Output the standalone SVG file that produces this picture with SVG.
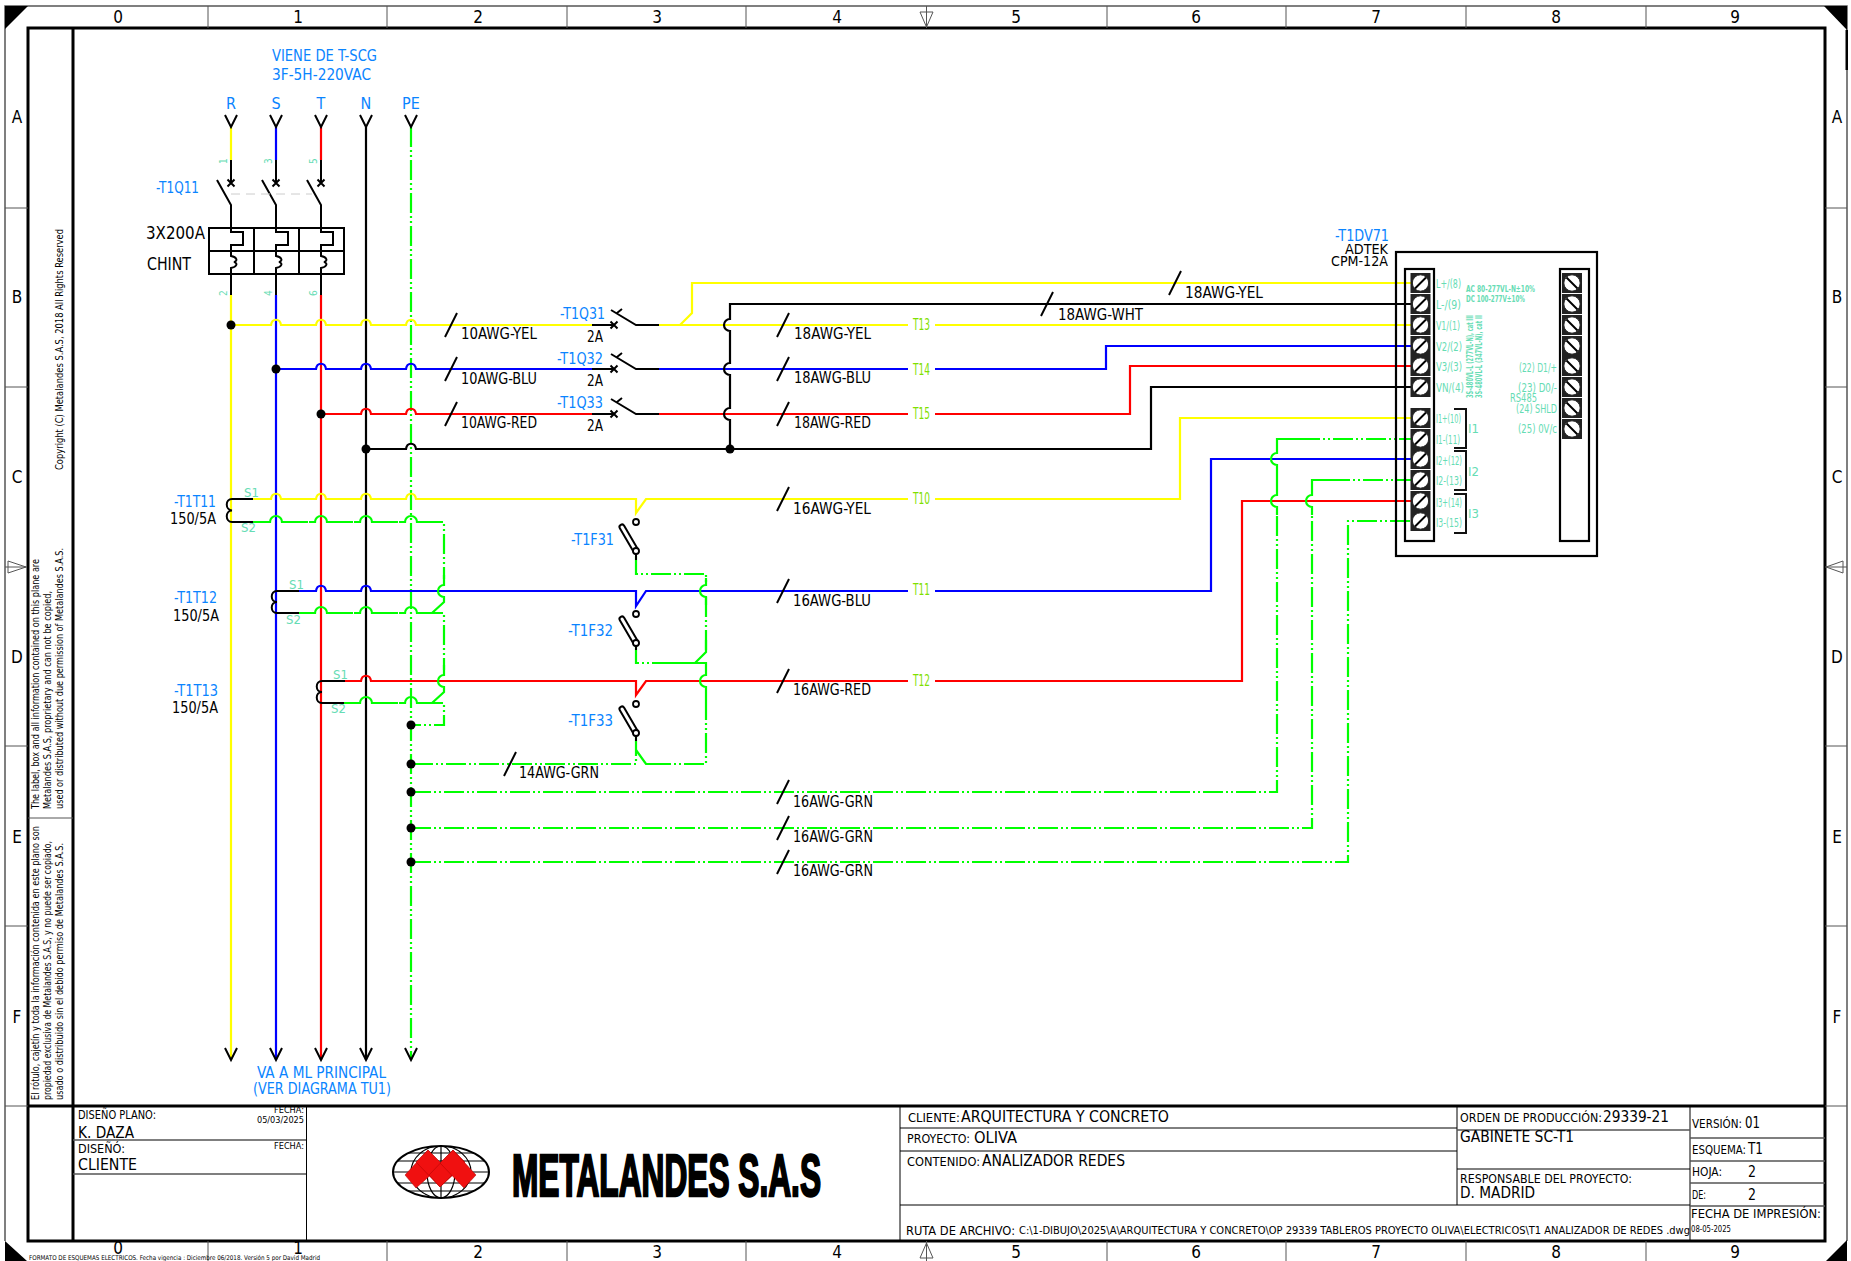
<svg xmlns="http://www.w3.org/2000/svg" width="1851" height="1261" viewBox="0 0 1851 1261">
<style>
text{font-family:"Liberation Sans Narrow","DejaVu Sans Condensed","Liberation Sans",sans-serif;fill:#000;font-size:16px}
.b{fill:#0a84ff}.t{fill:#66dcb4;font-size:13px}.g{fill:#7fe000;font-size:15px}
.s{font-size:15.5px}.m{text-anchor:middle}.e{text-anchor:end}
.d{font-family:"DejaVu Sans Condensed","DejaVu Sans",sans-serif}
.n{font-family:"Liberation Sans Narrow","DejaVu Sans Condensed",sans-serif;font-size:17px;text-anchor:middle}
.w{fill:none;stroke-width:2.2;stroke-linejoin:miter}
.y{stroke:#ff0}.u{stroke:#00f}.r{stroke:#f00}.k{stroke:#000}
.p{stroke:#0f0;stroke-dasharray:20 3 2 3 2 3}
.v{stroke:#0f0}
.h{fill:none;stroke:#000;stroke-width:2}
.f{fill:none;stroke:#000;stroke-width:3}
.l{fill:none;stroke:#555;stroke-width:1}
.q{fill:none;stroke:#555;stroke-width:1.5}
.o{fill:#fff;stroke:#000;stroke-width:1.8}
.z{fill:none;stroke:#000;stroke-width:2.2}
.lf{font-family:"DejaVu Sans Condensed","DejaVu Sans",sans-serif;font-size:10px}
.br{fill:none;stroke:#111;stroke-width:2}
.rd{fill:#f01010;stroke:#a00;stroke-width:.5}
</style>
<defs>
<g id="tl"><rect x="-10" y="-10" width="20" height="20" fill="#222"/><circle r="8.2" fill="#fff" stroke="#222"/><path d="M-5.5 5.5L5.5-5.5" stroke="#000" stroke-width="2"/></g>
<g id="tr"><rect x="-10" y="-10" width="20" height="20" fill="#222"/><circle r="8.2" fill="#fff" stroke="#222"/><path d="M-5.5-5.5L5.5 5.5" stroke="#000" stroke-width="2"/></g>
<path id="sl" d="M-6 12L6-12" stroke="#000" stroke-width="2" fill="none"/>
<path id="yi" d="M-6-12L0 0L6-12" fill="none" stroke="#000" stroke-width="2"/>
<circle id="dot" r="4.5" fill="#000"/>
<path id="xm" d="M-3.5-3.5L3.5 3.5M-3.5 3.5L3.5-3.5" stroke="#000" stroke-width="2"/>
<clipPath id="gl"><ellipse cx="441" cy="1172" rx="48" ry="26"/></clipPath>
</defs>

<g id="frame">
<path class="q" d="M5 1241V6H1847V1241"/>
<path class="f" d="M28 28H1825V1241H28ZM73 28V1241M28 1106H1825"/>
<path d="M5 6H28L5 29ZM1824 6H1847V30ZM5 1241L27 1261H5ZM1847 1240V1261H1826Z"/>
<path d="M1845.500 30H1848V70H1845.500Z"/>
<path class="l" d="M208 6V28M387 6V28M567 6V28M746 6V28M1107 6V28M1286 6V28M1466 6V28M1646 6V28M208 1241V1261M387 1241V1261M567 1241V1261M746 1241V1261M1107 1241V1261M1286 1241V1261M1466 1241V1261M1646 1241V1261M5 208H28M5 387H28M5 746H28M5 926H28M5 1106H28M1825 208H1847M1825 387H1847M1825 746H1847M1825 926H1847M1825 1106H1847M28 818H73"/>
<path class="l" d="M926.500 6V28M920 12H933L926.500 27ZM926.500 1241V1261M920 1258H933L926.500 1243ZM5 567H27M8 561V573L26 567ZM1825 567H1847M1843 561V573L1826 567Z"/>
<g class="nums">
<text class="n" x="118" y="23">0</text><text class="n" x="298" y="23">1</text><text class="n" x="478" y="23">2</text><text class="n" x="657" y="23">3</text><text class="n" x="837" y="23">4</text><text class="n" x="1016" y="23">5</text><text class="n" x="1196" y="23">6</text><text class="n" x="1376" y="23">7</text><text class="n" x="1556" y="23">8</text><text class="n" x="1735" y="23">9</text>
<text class="n" x="118" y="1254">0</text><text class="n" x="298" y="1254">1</text><text class="n" x="478" y="1258">2</text><text class="n" x="657" y="1258">3</text><text class="n" x="837" y="1258">4</text><text class="n" x="1016" y="1258">5</text><text class="n" x="1196" y="1258">6</text><text class="n" x="1376" y="1258">7</text><text class="n" x="1556" y="1258">8</text><text class="n" x="1735" y="1258">9</text>
<text class="n" x="17" y="123">A</text><text class="n" x="17" y="303">B</text><text class="n" x="17" y="483">C</text><text class="n" x="17" y="663">D</text><text class="n" x="17" y="843">E</text><text class="n" x="17" y="1023">F</text>
<text class="n" x="1837" y="123">A</text><text class="n" x="1837" y="303">B</text><text class="n" x="1837" y="483">C</text><text class="n" x="1837" y="663">D</text><text class="n" x="1837" y="843">E</text><text class="n" x="1837" y="1023">F</text>
</g>
<text class="d" x="29" y="1260" textLength="291" lengthAdjust="spacingAndGlyphs" style="font-size:6.5px">FORMATO DE ESQUEMAS ELECTRICOS.  Fecha  vigencia : Diciembre 06/2018.  Versión 5 por David Madrid</text>
</g>

<g id="legal">
<text class="lf" transform="translate(63 470) rotate(-90)" textLength="241" lengthAdjust="spacingAndGlyphs">Copyright (C)  Metalandes S.A.S, 2018 All  Rights Reserved</text>
<text class="lf" transform="translate(39 809) rotate(-90)" textLength="250" lengthAdjust="spacingAndGlyphs">The label, box and all information contained on this plane are</text>
<text class="lf" transform="translate(51 809) rotate(-90)" textLength="218" lengthAdjust="spacingAndGlyphs">Metalandes S.A.S, proprietary and can not be copied,</text>
<text class="lf" transform="translate(63 809) rotate(-90)" textLength="261" lengthAdjust="spacingAndGlyphs">used or distributed without due permission of Metalandes S.A.S.</text>
<text class="lf" transform="translate(39 1100) rotate(-90)" textLength="274" lengthAdjust="spacingAndGlyphs">El rótulo, cajetín y toda la información contenida en este plano son</text>
<text class="lf" transform="translate(51 1100) rotate(-90)" textLength="259" lengthAdjust="spacingAndGlyphs">propiedad exclusiva de Metalandes S.A.S, y no puede ser copiado,</text>
<text class="lf" transform="translate(63 1100) rotate(-90)" textLength="257" lengthAdjust="spacingAndGlyphs">usado o distribuido sin el debido permiso de Metalandes S.A.S.</text>
</g>

<g id="connectors">
<path class="w y" d="M231 127V160M231 295V1060"/>
<path class="w u" d="M276 127V160M276 295V1060"/>
<path class="w r" d="M321 127V160M321 295V1060"/>
<path class="w k" d="M366 127V1060"/>
<path class="w p" d="M411 127V1060"/>
<path class="w y" d="M231 325H271c1-7 9-7 10 0H316c1-7 9-7 10 0H361c1-7 9-7 10 0H406c1-7 9-7 10 0H592M659 325H908M935 325H1411M680 325L692 313V283H1411"/>
<path class="w u" d="M276 369H316c1-7 9-7 10 0H361c1-7 9-7 10 0H406c1-7 9-7 10 0H592M659 369H908M935 369H1106V346H1411"/>
<path class="w r" d="M321 414H361c1-7 9-7 10 0H406c1-7 9-7 10 0H592M659 414H908M935 414H1130V366H1411"/>
<path class="w k" d="M366 449H406c1-7 9-7 10 0H1151V387H1411M730 449V420a6 6 0 0 1 0-12V375a6 6 0 0 1 0-12V331a6 6 0 0 1 0-12V304H1411"/>
<path class="w y" d="M253 499H271c1-7 9-7 10 0H316c1-7 9-7 10 0H361c1-7 9-7 10 0H406c1-7 9-7 10 0H636V513L646 499H908M935 499H1180V418H1411"/>
<path class="w u" d="M299 591H316c1-7 9-7 10 0H361c1-7 9-7 10 0H636V606L646 591H908M935 591H1211V459H1411"/>
<path class="w r" d="M345 681H361c1-7 9-7 10 0H636V695L646 681H908M935 681H1242V501H1411"/>
<path class="w p" d="M253 522H264M288 522H309M333 522H354M378 522H399M423 522H444V579"/>
<path class="w v" d="M264 522H270a6 6 0 0 1 12 0H288M309 522H315a6 6 0 0 1 12 0H333M354 522H360a6 6 0 0 1 12 0H378M399 522H405a6 6 0 0 1 12 0H423M444 575V585a6 6 0 0 0 0 12V602L432 613"/>
<path class="w p" d="M299 613H309M333 613H354M378 613H399M423 613H444V670"/>
<path class="w v" d="M309 613H315a6 6 0 0 1 12 0H333M354 613H360a6 6 0 0 1 12 0H378M399 613H405a6 6 0 0 1 12 0H423M444 665V675a6 6 0 0 0 0 12V692L432 703"/>
<path class="w p" d="M344 703H354M378 703H399M423 703H444V725H411"/>
<path class="w v" d="M354 703H360a6 6 0 0 1 12 0H378M399 703H405a6 6 0 0 1 12 0H423"/>
<path class="w p" d="M636 556V574H706V585M706 597V652"/>
<path class="w v" d="M706 578V585a6 6 0 0 0 0 12V605M706 640V652L695 663H660"/>
<path class="w p" d="M636 646V663H695"/>
<path class="w v" d="M695 663H706V675a6 6 0 0 0 0 12V700"/>
<path class="w p" d="M706 700V764H646"/>
<path class="w v" d="M660 764H646L636 750"/>
<path class="w p" d="M636 736V764H411"/>
<path class="w p" d="M411 792H1277V515"/>
<path class="w v" d="M1277 515V507a6 6 0 0 1 0-12V465a6 6 0 0 1 0-12V439H1300"/>
<path class="w p" d="M1300 439H1411"/>
<path class="w p" d="M411 828H1312V515"/>
<path class="w v" d="M1312 515V507a6 6 0 0 1 0-12V480H1330"/>
<path class="w p" d="M1330 480H1411"/>
<path class="w p" d="M411 862H1348V521H1411"/>
<use href="#dot" x="231" y="325"/><use href="#dot" x="276" y="369"/><use href="#dot" x="321" y="414"/><use href="#dot" x="366" y="449"/><use href="#dot" x="730" y="449"/>
<use href="#dot" x="411" y="725"/><use href="#dot" x="411" y="764"/><use href="#dot" x="411" y="792"/><use href="#dot" x="411" y="828"/><use href="#dot" x="411" y="862"/>
<use href="#sl" x="451" y="325"/><use href="#sl" x="451" y="369"/><use href="#sl" x="451" y="414"/>
<use href="#sl" x="783" y="325"/><use href="#sl" x="783" y="369"/><use href="#sl" x="783" y="414"/>
<use href="#sl" x="783" y="499"/><use href="#sl" x="783" y="591"/><use href="#sl" x="783" y="681"/>
<use href="#sl" x="510" y="764"/><use href="#sl" x="783" y="792"/><use href="#sl" x="783" y="828"/><use href="#sl" x="783" y="862"/>
<use href="#sl" x="1175" y="283"/><use href="#sl" x="1047" y="304"/>
</g>

<g id="wire-labels">
<text class="s" x="461" y="339" textLength="76" lengthAdjust="spacingAndGlyphs">10AWG-YEL</text>
<text class="s" x="461" y="384" textLength="76" lengthAdjust="spacingAndGlyphs">10AWG-BLU</text>
<text class="s" x="461" y="428" textLength="76" lengthAdjust="spacingAndGlyphs">10AWG-RED</text>
<text class="s" x="794" y="339" textLength="77" lengthAdjust="spacingAndGlyphs">18AWG-YEL</text>
<text class="s" x="794" y="383" textLength="77" lengthAdjust="spacingAndGlyphs">18AWG-BLU</text>
<text class="s" x="794" y="428" textLength="77" lengthAdjust="spacingAndGlyphs">18AWG-RED</text>
<text class="s" x="1185" y="298" textLength="78" lengthAdjust="spacingAndGlyphs">18AWG-YEL</text>
<text class="s" x="1058" y="320" textLength="85" lengthAdjust="spacingAndGlyphs">18AWG-WHT</text>
<text class="s" x="793" y="514" textLength="78" lengthAdjust="spacingAndGlyphs">16AWG-YEL</text>
<text class="s" x="793" y="606" textLength="78" lengthAdjust="spacingAndGlyphs">16AWG-BLU</text>
<text class="s" x="793" y="695" textLength="78" lengthAdjust="spacingAndGlyphs">16AWG-RED</text>
<text class="s" x="519" y="778" textLength="80" lengthAdjust="spacingAndGlyphs">14AWG-GRN</text>
<text class="s" x="793" y="807" textLength="80" lengthAdjust="spacingAndGlyphs">16AWG-GRN</text>
<text class="s" x="793" y="842" textLength="80" lengthAdjust="spacingAndGlyphs">16AWG-GRN</text>
<text class="s" x="793" y="876" textLength="80" lengthAdjust="spacingAndGlyphs">16AWG-GRN</text>
<text class="g" x="913" y="330" textLength="17" lengthAdjust="spacingAndGlyphs">T13</text>
<text class="g" x="913" y="375" textLength="17" lengthAdjust="spacingAndGlyphs">T14</text>
<text class="g" x="913" y="419" textLength="17" lengthAdjust="spacingAndGlyphs">T15</text>
<text class="g" x="913" y="504" textLength="17" lengthAdjust="spacingAndGlyphs">T10</text>
<text class="g" x="913" y="595" textLength="17" lengthAdjust="spacingAndGlyphs">T11</text>
<text class="g" x="913" y="686" textLength="17" lengthAdjust="spacingAndGlyphs">T12</text>
</g>

<g id="source">
<text class="b" x="272" y="61" textLength="105" lengthAdjust="spacingAndGlyphs">VIENE DE T-SCG</text>
<text class="b" x="272" y="80" textLength="99" lengthAdjust="spacingAndGlyphs">3F-5H-220VAC</text>
<text class="b m" x="231" y="109">R</text><text class="b m" x="276" y="109">S</text><text class="b m" x="321" y="109">T</text><text class="b m" x="366" y="109">N</text><text class="b m" x="411" y="109">PE</text>
<use href="#yi" x="231" y="127"/><use href="#yi" x="276" y="127"/><use href="#yi" x="321" y="127"/><use href="#yi" x="366" y="127"/><use href="#yi" x="411" y="127"/>
</g>

<g id="outputs">
<use href="#yi" x="231" y="1060"/><use href="#yi" x="276" y="1060"/><use href="#yi" x="321" y="1060"/><use href="#yi" x="366" y="1060"/><use href="#yi" x="411" y="1060"/>
<text class="b" x="257" y="1078" textLength="129" lengthAdjust="spacingAndGlyphs">VA A ML PRINCIPAL</text>
<text class="b" x="253" y="1094" textLength="138" lengthAdjust="spacingAndGlyphs">(VER DIAGRAMA TU1)</text>
</g>

<g id="T1Q11">
<text class="b" x="156" y="193" textLength="43" lengthAdjust="spacingAndGlyphs">-T1Q11</text>
<text x="146" y="239" textLength="59" lengthAdjust="spacingAndGlyphs" style="font-size:17px">3X200A</text>
<text x="147" y="270" textLength="44" lengthAdjust="spacingAndGlyphs" style="font-size:17px">CHINT</text>
<path class="h" d="M231 160V183M276 160V183M321 160V183"/>
<path class="h" d="M217 180L231 205V232H243V245H231V256c6 1 7 5 3 6c4 1 3 5-3 6V295M262 180L276 205V232H288V245H276V256c6 1 7 5 3 6c4 1 3 5-3 6V295M307 180L321 205V232H333V245H321V256c6 1 7 5 3 6c4 1 3 5-3 6V295"/>
<use href="#xm" x="231" y="183"/><use href="#xm" x="276" y="183"/><use href="#xm" x="321" y="183"/>
<path d="M231 194H312" stroke="#ccc" stroke-width="1" stroke-dasharray="9 6" fill="none"/>
<path class="h" d="M209 228H344V274H209ZM209 251H344M254 228V274M299 228V274"/>
<text class="t" transform="translate(227 164) rotate(-90)" style="font-size:10px">1</text><text class="t" transform="translate(272 164) rotate(-90)" style="font-size:10px">3</text><text class="t" transform="translate(317 164) rotate(-90)" style="font-size:10px">5</text>
<text class="t" transform="translate(227 296) rotate(-90)" style="font-size:10px">2</text><text class="t" transform="translate(272 296) rotate(-90)" style="font-size:10px">4</text><text class="t" transform="translate(317 296) rotate(-90)" style="font-size:10px">6</text>
</g>

<g id="T1Q31">
<text class="b" x="560" y="319" textLength="45" lengthAdjust="spacingAndGlyphs">-T1Q31</text>
<text class="s" x="587" y="342" textLength="16" lengthAdjust="spacingAndGlyphs">2A</text>
<path class="h" d="M592 325H614M611 310L636 325H659M617 313L622 309"/><use href="#xm" x="614" y="325"/>
</g>
<g id="T1Q32">
<text class="b" x="557" y="364" textLength="46" lengthAdjust="spacingAndGlyphs">-T1Q32</text>
<text class="s" x="587" y="386" textLength="16" lengthAdjust="spacingAndGlyphs">2A</text>
<path class="h" d="M592 369H614M611 354L636 369H659M617 357L622 353"/><use href="#xm" x="614" y="369"/>
</g>
<g id="T1Q33">
<text class="b" x="557" y="408" textLength="46" lengthAdjust="spacingAndGlyphs">-T1Q33</text>
<text class="s" x="587" y="431" textLength="16" lengthAdjust="spacingAndGlyphs">2A</text>
<path class="h" d="M592 414H614M611 399L636 414H659M617 402L622 398"/><use href="#xm" x="614" y="414"/>
</g>

<g id="T1T11">
<text class="b" x="174" y="507" textLength="42" lengthAdjust="spacingAndGlyphs">-T1T11</text>
<text class="s" x="170" y="524" textLength="46" lengthAdjust="spacingAndGlyphs">150/5A</text>
<path class="h" d="M253 499H232c-7 0-7 11 0 11.500c-7 0-7 11.500 0 11.500H253"/>
<text class="t" x="244" y="497">S1</text><text class="t" x="241" y="532">S2</text>
</g>
<g id="T1T12">
<text class="b" x="174" y="603" textLength="43" lengthAdjust="spacingAndGlyphs">-T1T12</text>
<text class="s" x="173" y="621" textLength="46" lengthAdjust="spacingAndGlyphs">150/5A</text>
<path class="h" d="M299 591H277c-7 0-7 11 0 11c-7 0-7 11 0 11H299"/>
<text class="t" x="289" y="589">S1</text><text class="t" x="286" y="624">S2</text>
</g>
<g id="T1T13">
<text class="b" x="174" y="696" textLength="44" lengthAdjust="spacingAndGlyphs">-T1T13</text>
<text class="s" x="172" y="713" textLength="46" lengthAdjust="spacingAndGlyphs">150/5A</text>
<path class="h" d="M345 681H322c-7 0-7 11 0 11c-7 0-7 11 0 11H344"/>
<text class="t" x="333" y="679">S1</text><text class="t" x="331" y="713">S2</text>
</g>

<g id="T1F31">
<text class="b" x="571" y="545" textLength="43" lengthAdjust="spacingAndGlyphs">-T1F31</text>
<path d="M622 527L636 551" stroke="#000" stroke-width="7" stroke-linecap="round"/><path d="M622 527L636 551" stroke="#fff" stroke-width="3" stroke-linecap="round"/>
<circle class="o" cx="636" cy="522" r="3"/><circle class="o" cx="636" cy="551" r="3"/><path class="h" d="M636 554V560"/>
</g>
<g id="T1F32">
<text class="b" x="568" y="636" textLength="45" lengthAdjust="spacingAndGlyphs">-T1F32</text>
<path d="M622 619L636 643" stroke="#000" stroke-width="7" stroke-linecap="round"/><path d="M622 619L636 643" stroke="#fff" stroke-width="3" stroke-linecap="round"/>
<circle class="o" cx="636" cy="614" r="3"/><circle class="o" cx="636" cy="643" r="3"/><path class="h" d="M636 646V650"/>
</g>
<g id="T1F33">
<text class="b" x="568" y="726" textLength="45" lengthAdjust="spacingAndGlyphs">-T1F33</text>
<path d="M622 709L636 733" stroke="#000" stroke-width="7" stroke-linecap="round"/><path d="M622 709L636 733" stroke="#fff" stroke-width="3" stroke-linecap="round"/>
<circle class="o" cx="636" cy="704" r="3"/><circle class="o" cx="636" cy="733" r="3"/><path class="h" d="M636 736V741"/>
</g>

<g id="T1DV71">
<text class="b" x="1335" y="241" textLength="54" lengthAdjust="spacingAndGlyphs">-T1DV71</text>
<text x="1345" y="254" textLength="43" lengthAdjust="spacingAndGlyphs" style="font-size:14px">ADTEK</text>
<text x="1331" y="266" textLength="57" lengthAdjust="spacingAndGlyphs" style="font-size:14px">CPM-12A</text>
<rect class="z" x="1396" y="252" width="201" height="304"/>
<rect class="z" x="1405" y="269" width="29" height="272"/>
<rect class="z" x="1560" y="269" width="29" height="272"/>
<use href="#tl" x="1420.500" y="283"/><use href="#tl" x="1420.500" y="304"/><use href="#tl" x="1420.500" y="325"/><use href="#tl" x="1420.500" y="346"/><use href="#tl" x="1420.500" y="366"/><use href="#tl" x="1420.500" y="387"/>
<use href="#tl" x="1420.500" y="418"/><use href="#tl" x="1420.500" y="439"/><use href="#tl" x="1420.500" y="459"/><use href="#tl" x="1420.500" y="480"/><use href="#tl" x="1420.500" y="501"/><use href="#tl" x="1420.500" y="521"/>
<use href="#tr" x="1572" y="283"/><use href="#tr" x="1572" y="304"/><use href="#tr" x="1572" y="325"/><use href="#tr" x="1572" y="346"/><use href="#tr" x="1572" y="366"/><use href="#tr" x="1572" y="387"/><use href="#tr" x="1572" y="408"/><use href="#tr" x="1572" y="429"/>
<text class="t" x="1436" y="288" textLength="25" lengthAdjust="spacingAndGlyphs">L+/(8)</text>
<text class="t" x="1436" y="309" textLength="25" lengthAdjust="spacingAndGlyphs">L-/(9)</text>
<text class="t" x="1436" y="330" textLength="24" lengthAdjust="spacingAndGlyphs">V1/(1)</text>
<text class="t" x="1436" y="351" textLength="26" lengthAdjust="spacingAndGlyphs">V2/(2)</text>
<text class="t" x="1436" y="371" textLength="26" lengthAdjust="spacingAndGlyphs">V3/(3)</text>
<text class="t" x="1436" y="392" textLength="28" lengthAdjust="spacingAndGlyphs">VN/(4)</text>
<text class="t" x="1436" y="423" textLength="25" lengthAdjust="spacingAndGlyphs">I1+(10)</text>
<text class="t" x="1436" y="444" textLength="24" lengthAdjust="spacingAndGlyphs">I1-(11)</text>
<text class="t" x="1436" y="465" textLength="26" lengthAdjust="spacingAndGlyphs">I2+(12)</text>
<text class="t" x="1436" y="485" textLength="26" lengthAdjust="spacingAndGlyphs">I2-(13)</text>
<text class="t" x="1436" y="507" textLength="26" lengthAdjust="spacingAndGlyphs">I3+(14)</text>
<text class="t" x="1436" y="527" textLength="26" lengthAdjust="spacingAndGlyphs">I3-(15)</text>
<path class="br" d="M1454 409H1466V448H1454M1454 451H1466V490H1454M1454 494H1466V533H1454"/>
<text class="t" x="1468" y="433">I1</text><text class="t" x="1468" y="476">I2</text><text class="t" x="1468" y="518">I3</text>
<text class="t" x="1466" y="292" textLength="69" lengthAdjust="spacingAndGlyphs" style="font-size:9px;font-weight:bold">AC 80-277VL-N±10%</text>
<text class="t" x="1466" y="302" textLength="59" lengthAdjust="spacingAndGlyphs" style="font-size:9px;font-weight:bold">DC 100-277V±10%</text>
<text class="t" transform="translate(1473 398) rotate(-90)" textLength="83" lengthAdjust="spacingAndGlyphs" style="font-size:9px;font-weight:bold">3S-480VL-L (277VL-N), cat III</text>
<text class="t" transform="translate(1482 398) rotate(-90)" textLength="83" lengthAdjust="spacingAndGlyphs" style="font-size:9px;font-weight:bold">3S-480VL-L (347VL-N), cat II</text>
<text class="t e" x="1557" y="372" textLength="38" lengthAdjust="spacingAndGlyphs">(22) D1/+</text>
<text class="t e" x="1557" y="392" textLength="39" lengthAdjust="spacingAndGlyphs">(23) D0/-</text>
<text class="t" x="1510" y="402" textLength="27" lengthAdjust="spacingAndGlyphs">RS485</text>
<text class="t e" x="1557" y="413" textLength="41" lengthAdjust="spacingAndGlyphs">(24) SHLD</text>
<text class="t e" x="1557" y="433" textLength="39" lengthAdjust="spacingAndGlyphs">(25) 0V/c</text>
</g>

<g id="title-block">
<path class="q" d="M73 1140H306M73 1174H306"/>
<path d="M306.500 1106V1241" stroke="#000" fill="none"/>
<path d="M900 1106V1241M1457 1106V1205M1690 1106V1241M900 1128H1457M900 1151H1457M900 1205H1690M1457 1169H1690" stroke="#000" fill="none"/>
<path class="q" d="M1457 1130H1690M1690 1138H1825M1690 1161H1825M1690 1183H1825M1690 1206H1825"/>
<text class="d" x="78" y="1119" textLength="78" lengthAdjust="spacingAndGlyphs" style="font-size:12px">DISEÑO PLANO:</text>
<text class="d" x="78" y="1138" textLength="56" lengthAdjust="spacingAndGlyphs" style="font-size:15px">K. DAZA</text>
<text class="d e" x="304" y="1113" textLength="30" lengthAdjust="spacingAndGlyphs" style="font-size:8.500px">FECHA:</text>
<text class="d e" x="304" y="1123" textLength="47" lengthAdjust="spacingAndGlyphs" style="font-size:8.500px">05/03/2025</text>
<text class="d" x="78" y="1153" textLength="47" lengthAdjust="spacingAndGlyphs" style="font-size:12px">DISEÑÓ:</text>
<text class="d" x="78" y="1170" textLength="59" lengthAdjust="spacingAndGlyphs" style="font-size:15px">CLIENTE</text>
<text class="d e" x="304" y="1149" textLength="30" lengthAdjust="spacingAndGlyphs" style="font-size:8.500px">FECHA:</text>
<text class="d" x="908" y="1122" textLength="52" lengthAdjust="spacingAndGlyphs" style="font-size:12px">CLIENTE:</text>
<text class="d" x="961" y="1122" textLength="208" lengthAdjust="spacingAndGlyphs" style="font-size:16px">ARQUITECTURA Y CONCRETO</text>
<text class="d" x="907" y="1143" textLength="63" lengthAdjust="spacingAndGlyphs" style="font-size:12px">PROYECTO:</text>
<text class="d" x="974" y="1143" textLength="43" lengthAdjust="spacingAndGlyphs" style="font-size:15px">OLIVA</text>
<text class="d" x="907" y="1166" textLength="73" lengthAdjust="spacingAndGlyphs" style="font-size:12px">CONTENIDO:</text>
<text class="d" x="982" y="1166" textLength="143" lengthAdjust="spacingAndGlyphs" style="font-size:15px">ANALIZADOR REDES</text>
<text class="d" x="1460" y="1122" textLength="142" lengthAdjust="spacingAndGlyphs" style="font-size:13px">ORDEN DE PRODUCCIÓN:</text>
<text class="d" x="1603" y="1122" textLength="66" lengthAdjust="spacingAndGlyphs" style="font-size:15px">29339-21</text>
<text class="d" x="1460" y="1142" textLength="114" lengthAdjust="spacingAndGlyphs" style="font-size:15px">GABINETE SC-T1</text>
<text class="d" x="1460" y="1183" textLength="172" lengthAdjust="spacingAndGlyphs" style="font-size:13px">RESPONSABLE DEL PROYECTO:</text>
<text class="d" x="1460" y="1198" textLength="75" lengthAdjust="spacingAndGlyphs" style="font-size:15px">D. MADRID</text>
<text class="d" x="1692" y="1128" textLength="50" lengthAdjust="spacingAndGlyphs" style="font-size:12px">VERSIÓN:</text>
<text class="d" x="1745" y="1128" textLength="15" lengthAdjust="spacingAndGlyphs" style="font-size:15px">01</text>
<text class="d" x="1692" y="1154" textLength="54" lengthAdjust="spacingAndGlyphs" style="font-size:12px">ESQUEMA:</text>
<text class="d" x="1748" y="1154" textLength="15" lengthAdjust="spacingAndGlyphs" style="font-size:15px">T1</text>
<text class="d" x="1692" y="1176" textLength="30" lengthAdjust="spacingAndGlyphs" style="font-size:12px">HOJA:</text>
<text class="d" x="1748" y="1177" textLength="8" lengthAdjust="spacingAndGlyphs" style="font-size:15px">2</text>
<text class="d" x="1692" y="1199" textLength="14" lengthAdjust="spacingAndGlyphs" style="font-size:12px">DE:</text>
<text class="d" x="1748" y="1200" textLength="8" lengthAdjust="spacingAndGlyphs" style="font-size:15px">2</text>
<text class="d" x="1691" y="1218" textLength="130" lengthAdjust="spacingAndGlyphs" style="font-size:13px">FECHA DE IMPRESIÓN:</text>
<text class="d" x="1691" y="1232" textLength="40" lengthAdjust="spacingAndGlyphs" style="font-size:8px">08-05-2025</text>
<text class="d" x="906" y="1235" textLength="109" lengthAdjust="spacingAndGlyphs" style="font-size:13px">RUTA DE ARCHIVO:</text>
<text class="d" x="1019" y="1234" textLength="671" lengthAdjust="spacingAndGlyphs" style="font-size:10px">C:\1-DIBUJO\2025\A\ARQUITECTURA Y CONCRETO\OP 29339 TABLEROS PROYECTO OLIVA\ELECTRICOS\T1 ANALIZADOR DE REDES .dwg</text>
</g>

<g id="logo">
<ellipse cx="441" cy="1172" rx="48" ry="26" fill="#fff" stroke="#000" stroke-width="2"/>
<g clip-path="url(#gl)" fill="none" stroke="#000" stroke-width="1.2">
<path d="M393 1153H489M393 1161H489M393 1172H489M393 1183H489M393 1191H489M441 1146V1198"/>
<ellipse cx="441" cy="1172" rx="14" ry="26"/><ellipse cx="441" cy="1172" rx="30" ry="26"/>
</g>
<path class="rd" d="M405 1175L428 1150L442 1165L416 1188Z"/>
<path class="rd" d="M428 1150L453 1175L440 1187L416 1162Z"/>
<path class="rd" d="M453 1150L429 1175L440 1187L465 1162Z"/>
<path class="rd" d="M453 1150L476 1175L464 1188L440 1163Z"/>
<text x="512" y="1196" textLength="309" lengthAdjust="spacingAndGlyphs" stroke="#000" stroke-width="2.500" style="font-family:'Liberation Sans',sans-serif;font-weight:bold;font-size:59px">METALANDES S.A.S</text>
</g>
</svg>
